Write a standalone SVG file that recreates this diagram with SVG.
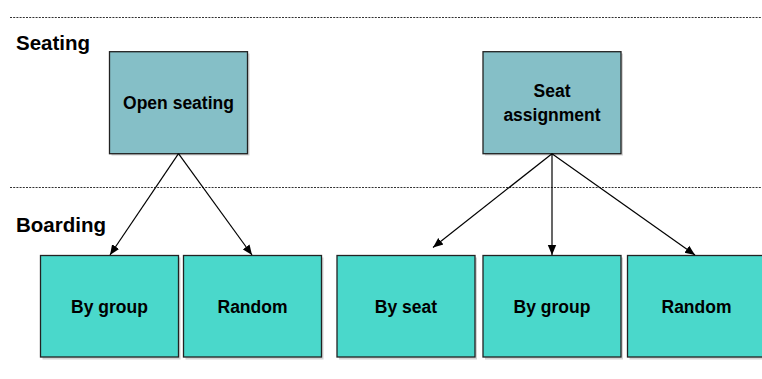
<svg xmlns="http://www.w3.org/2000/svg" width="762" height="379" viewBox="0 0 762 379">
<defs>
<marker id="arr" viewBox="0 0 10 10" refX="10" refY="5" markerWidth="10" markerHeight="10" markerUnits="userSpaceOnUse" orient="auto">
<path d="M0,0.8 L10,5 L0,9.2 z" fill="#000"/>
</marker>
</defs>
<style>
.sep{stroke:#333;stroke-width:1;stroke-dasharray:2 1.2;fill:none}
.hdr{font-family:"Liberation Sans",Arial,sans-serif;font-weight:bold;font-size:20.5px;fill:#000}
.lbl{font-family:"Liberation Sans",Arial,sans-serif;font-weight:bold;font-size:17.5px;fill:#000;text-anchor:middle}
.top{fill:#85BFC7;stroke:#222;stroke-width:1.3}
.bot{fill:#4AD8CB;stroke:#222;stroke-width:1.3}
.shd{fill:#d4d4d4}
.con{stroke:#000;stroke-width:1.2;fill:none;marker-end:url(#arr)}
</style>
<rect width="762" height="379" fill="#fff"/>
<line class="sep" x1="10" y1="17.5" x2="762" y2="17.5"/>
<line class="sep" x1="10" y1="187.5" x2="762" y2="187.5"/>
<text class="hdr" x="16" y="50">Seating</text>
<text class="hdr" x="16" y="232">Boarding</text>

<g id="open-seating">
<rect class="shd" x="111.5" y="53.5" width="138" height="102"/>
<rect class="top" x="109.5" y="51.7" width="138" height="102"/>
<text class="lbl" x="178.5" y="109">Open seating</text>
</g>
<g id="seat-assignment">
<rect class="shd" x="485" y="53.5" width="138" height="102"/>
<rect class="top" x="483" y="51.7" width="138" height="102"/>
<text class="lbl" x="552" y="97">Seat</text>
<text class="lbl" x="552" y="121">assignment</text>
</g>

<g id="open-by-group">
<rect class="shd" x="42.5" y="257.5" width="138" height="102"/>
<rect class="bot" x="40.5" y="255.5" width="138" height="101.5"/>
<text class="lbl" x="109.5" y="313">By group</text>
</g>
<g id="open-random">
<rect class="shd" x="185.5" y="257.5" width="138" height="102"/>
<rect class="bot" x="183.5" y="255.5" width="138" height="101.5"/>
<text class="lbl" x="252.5" y="313">Random</text>
</g>
<g id="by-seat">
<rect class="shd" x="339" y="257.5" width="138" height="102"/>
<rect class="bot" x="337" y="255.5" width="138" height="101.5"/>
<text class="lbl" x="406" y="313">By seat</text>
</g>
<g id="assign-by-group">
<rect class="shd" x="485" y="257.5" width="138" height="102"/>
<rect class="bot" x="483" y="255.5" width="138" height="101.5"/>
<text class="lbl" x="552" y="313">By group</text>
</g>
<g id="assign-random">
<rect class="shd" x="629.5" y="257.5" width="138" height="102"/>
<rect class="bot" x="627.5" y="255.5" width="138" height="101.5"/>
<text class="lbl" x="696.5" y="313">Random</text>
</g>

<g id="connectors">
<line class="con" x1="178.5" y1="153.7" x2="110" y2="255"/>
<line class="con" x1="178.5" y1="153.7" x2="252" y2="255"/>
<line class="con" x1="552" y1="153.7" x2="433" y2="247.5"/>
<line class="con" x1="552" y1="153.7" x2="552" y2="255"/>
<line class="con" x1="552" y1="153.7" x2="695" y2="255"/>
</g>
</svg>
